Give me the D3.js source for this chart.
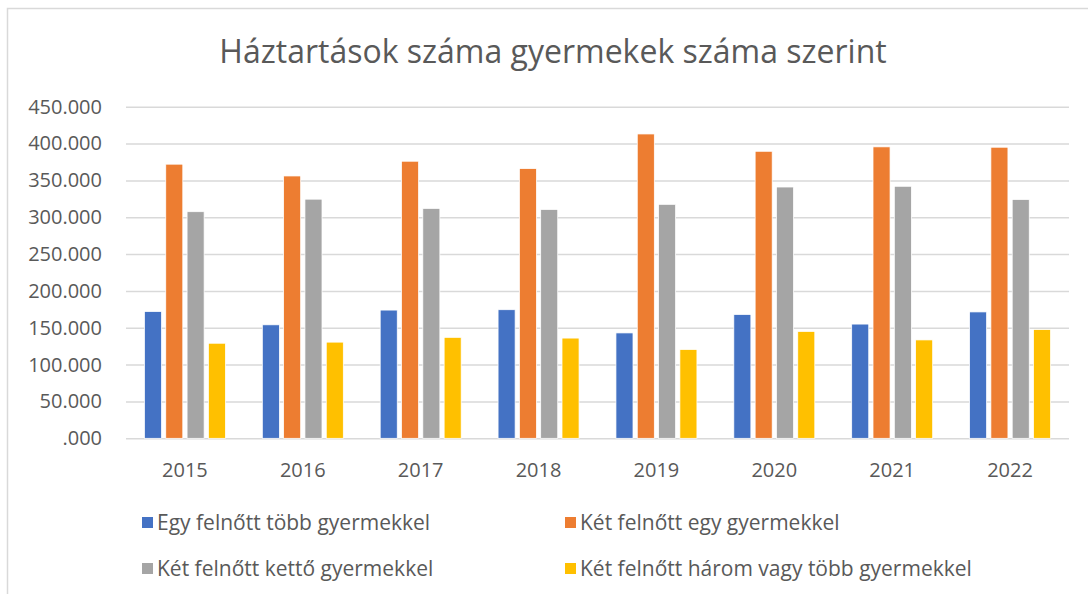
<!DOCTYPE html>
<html>
<head>
<meta charset="utf-8">
<script src="https://cdn.jsdelivr.net/npm/d3@7"></script>
<style>
    body { margin: 0; background: #fff; }
    svg { display: block; font-family: "Open Sans", "Noto Sans", sans-serif; }
</style>
</head>
<body>
<script>
// chart data
var years = ["2015", "2016", "2017", "2018", "2019", "2020", "2021", "2022"];
var seriesNames = [
    "Egy felnőtt több gyermekkel",
    "Két felnőtt egy gyermekkel",
    "Két felnőtt kettő gyermekkel",
    "Két felnőtt három vagy több gyermekkel"
];
var egyFelnottTobb = [172000, 154000, 174000, 174500, 143000, 168000, 155000, 171500];
var ketFelnottEgy = [372000, 356000, 376000, 366000, 413000, 389500, 395500, 395000];
var ketFelnottKetto = [307500, 324500, 312000, 310500, 317500, 341000, 342000, 324000];
var ketFelnottHarom = [129000, 130500, 137000, 136000, 120500, 145000, 133500, 147500];
var yTicks = [0, 50000, 100000, 150000, 200000, 250000, 300000, 350000, 400000, 450000];
var yTickLabels = [".000", "50.000", "100.000", "150.000", "200.000", "250.000", "300.000", "350.000", "400.000", "450.000"];
var colors = ["#4472c4", "#ed7d31", "#a5a5a5", "#ffc000"];

var width = 1088,
    height = 594,
    plotLeft = 126,
    plotRight = 1069,
    plotTop = 106.7,
    plotBottom = 438.3;

var seriesValues = [egyFelnottTobb, ketFelnottEgy, ketFelnottKetto, ketFelnottHarom];

var rows = years.map(function (yr, i) {
    return { year: yr, values: seriesValues.map(function (s) { return s[i]; }) };
});

var svg = d3.select("body").append("svg")
    .attr("width", width)
    .attr("height", height);

// chart area outline
svg.append("rect")
    .attr("x", 7.5)
    .attr("y", 8.5)
    .attr("width", 1200)
    .attr("height", 800)
    .attr("fill", "#fff")
    .attr("stroke", "#d9d9d9")
    .attr("stroke-width", 1.5);

svg.append("text")
    .attr("x", 553)
    .attr("y", 63)
    .attr("text-anchor", "middle")
    .style("font-size", "32px")
    .style("fill", "#595959")
    .text("Háztartások száma gyermekek száma szerint");

var y = d3.scaleLinear().domain([0, 450000]).range([plotBottom, plotTop]);

var x0 = d3.scaleBand().domain(years).range([plotLeft, plotRight])
    .paddingInner(0.313).paddingOuter(0.1565);

var x1 = d3.scaleBand().domain(d3.range(seriesNames.length))
    .range([0, x0.bandwidth()]).paddingInner(0.2);

// gridlines + y labels
var yAxis = svg.append("g")
    .attr("transform", "translate(" + plotLeft + ",0)")
    .call(d3.axisLeft(y)
        .tickValues(yTicks)
        .tickSize(-(plotRight - plotLeft))
        .tickPadding(24)
        .tickFormat(function (d, i) { return yTickLabels[i]; }));
yAxis.select(".domain").remove();
yAxis.selectAll("line").attr("stroke", "#d9d9d9").attr("stroke-width", 1.5);
yAxis.selectAll("text")
    .style("font-size", "20px")
    .style("font-family", "'Open Sans', sans-serif")
    .attr("fill", "#595959");

// x labels
var xAxis = svg.append("g")
    .attr("transform", "translate(0," + plotBottom + ")")
    .call(d3.axisBottom(x0).tickSize(0).tickPadding(25));
xAxis.select(".domain").remove();
xAxis.selectAll("text")
    .style("font-size", "20px")
    .style("font-family", "'Open Sans', sans-serif")
    .attr("fill", "#595959");

// bars
var groups = svg.append("g")
    .selectAll("g")
    .data(rows)
    .enter().append("g")
    .attr("transform", function (d) { return "translate(" + x0(d.year) + ",0)"; });

groups.selectAll("rect")
    .data(function (d) { return d.values; })
    .enter().append("rect")
    .attr("x", function (d, i) { return x1(i); })
    .attr("y", function (d) { return y(d); })
    .attr("width", x1.bandwidth())
    .attr("height", function (d) { return y(0) - y(d); })
    .attr("fill", function (d, i) { return colors[i]; })
    .attr("stroke", "#fff")
    .attr("stroke-width", 0.75);

// legend
var legendPos = [[142, 523], [565, 523], [142, 569], [565, 569]];
var legend = svg.append("g")
    .selectAll("g")
    .data(seriesNames)
    .enter().append("g")
    .attr("transform", function (d, i) { return "translate(" + legendPos[i][0] + "," + legendPos[i][1] + ")"; });

legend.append("rect")
    .attr("x", 0)
    .attr("y", -6)
    .attr("width", 11)
    .attr("height", 11)
    .attr("fill", function (d, i) { return colors[i]; });

legend.append("text")
    .attr("x", 15)
    .attr("y", 0)
    .attr("dy", "0.35em")
    .style("font-size", "21px")
    .style("fill", "#595959")
    .text(function (d) { return d; });
</script>
</body>
</html>
